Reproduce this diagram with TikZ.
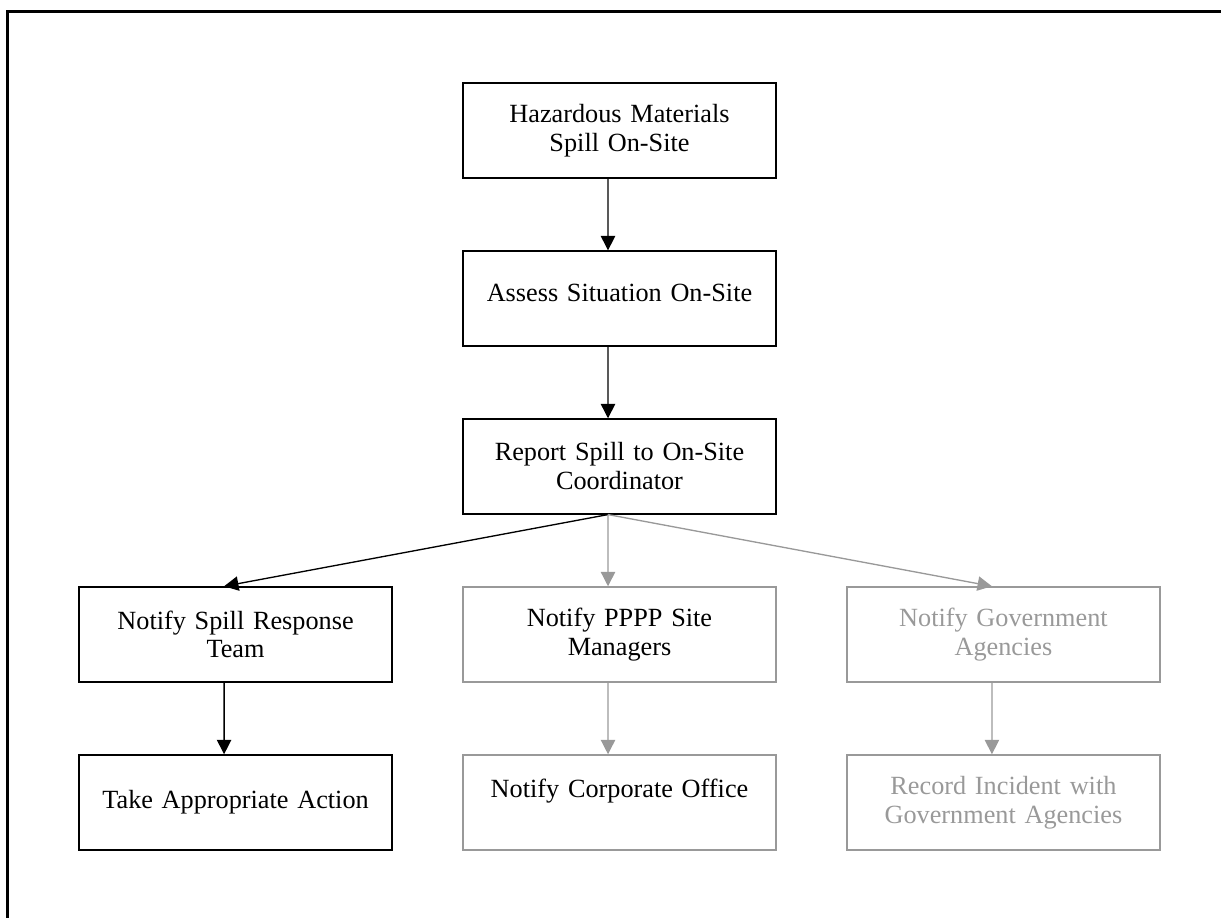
\documentclass[tikz,border=0pt]{standalone}
\usepackage{fontspec}
\setmainfont{Liberation Serif}
\usetikzlibrary{arrows.meta, positioning}
\definecolor{fadegray}{HTML}{999999}

\begin{document}
\begin{tikzpicture}[
  x=0.4876pt, y=-0.4876pt,
  level distance=81.9pt,
  level 3/.style={sibling distance=187.2pt},
  stepbox/.style={rectangle, draw, line width=0.65pt, minimum width=152.6pt, minimum height=46.3pt,
    text width=146pt, align=center, inner sep=2pt, font=\fontsize{12.8}{14.1}\selectfont},
  edge from parent/.style={draw, line width=0.65pt, -{Triangle[length=7pt,width=7pt]}},
  edge from parent path={([xshift=-5.6pt]\tikzparentnode.south) -- ([xshift=-5.6pt]\tikzchildnode.north)}
]
  \useasboundingbox (0,0) rectangle (1221,918);
  \draw[line width=1pt] (1221,11.5) -| (7.5,918);

  \node[stepbox] (spill) at (619.5,130.5) {Hazardous Materials\\ Spill On-Site}
    child {node[stepbox, text depth=6pt] (assess) {Assess Situation On-Site}
      child {node[stepbox] (report) {Report Spill to On-Site\\ Coordinator}
        child {node[stepbox] (team) {Notify Spill Response\\ Team}
          child {node[stepbox] (action) {Take Appropriate Action}}
        }
        child[fadegray] {node[stepbox, text=black] (managers) {Notify PPPP Site\\ Managers}
          child {node[stepbox, text=black] (corporate) {Notify Corporate Office\\ \mbox{}}}
        }
        child[fadegray] {node[stepbox] (agencies) {Notify Government\\ Agencies}
          child {node[stepbox] (record) {Record Incident with\\ Government Agencies}}
        }
      }
    };
\end{tikzpicture}
\end{document}
